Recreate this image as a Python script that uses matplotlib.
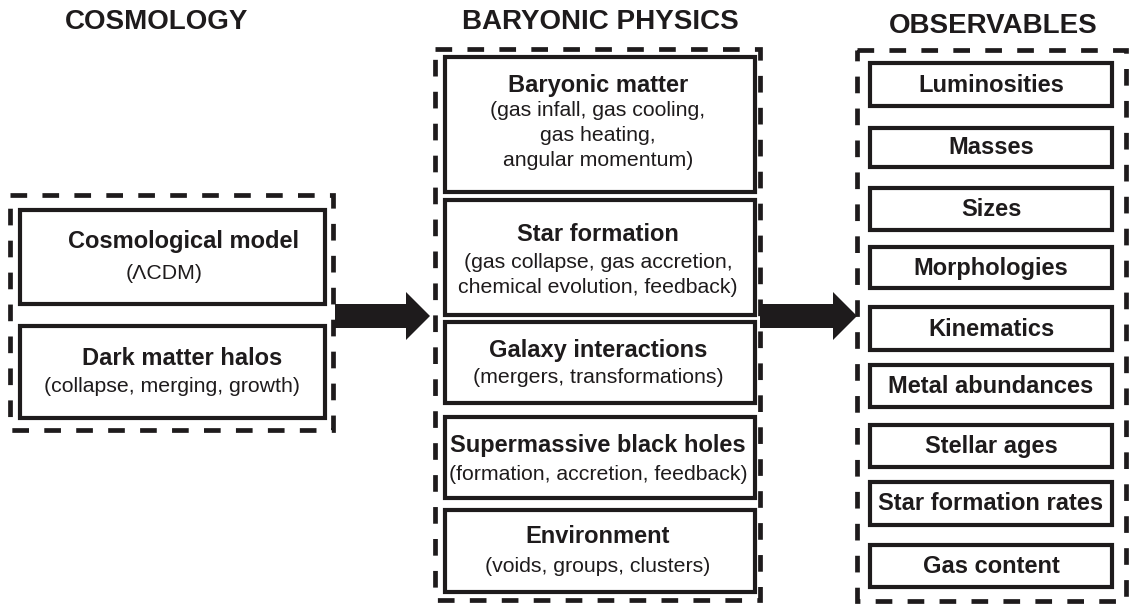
import matplotlib
matplotlib.use('Agg')
import matplotlib.pyplot as plt
from matplotlib.patches import Rectangle, FancyArrow

plt.rcParams['font.family'] = ['Liberation Sans', 'DejaVu Sans']
plt.rcParams['lines.scale_dashes'] = False

# --- content ---
column_titles = ['COSMOLOGY', 'BARYONIC PHYSICS', 'OBSERVABLES']

cosmo_titles = ['Cosmological model', 'Dark matter halos']
cosmo_notes = [['(\u039bCDM)'], ['(collapse, merging, growth)']]

baryon_titles = ['Baryonic matter', 'Star formation', 'Galaxy interactions',
                 'Supermassive black holes', 'Environment']
baryon_notes = [['(gas infall, gas cooling,', 'gas heating,', 'angular momentum)'],
                ['(gas collapse, gas accretion,', 'chemical evolution, feedback)'],
                ['(mergers, transformations)'],
                ['(formation, accretion, feedback)'],
                ['(voids, groups, clusters)']]

observables = ['Luminosities', 'Masses', 'Sizes', 'Morphologies', 'Kinematics',
               'Metal abundances', 'Stellar ages', 'Star formation rates', 'Gas content']

# --- layout (pixel coordinates, y down) ---
W, H = 1129, 604
fig = plt.figure(figsize=(W / 100, H / 100), dpi=100)
ax = fig.add_axes([0, 0, 1, 1])
ax.set_xlim(0, W)
ax.set_ylim(H, 0)
ax.axis('off')

BOX_LW = 3.0
DASH_LW = 3.4
DASH = (0, (12, 11))
TITLE_FS = 20
LABEL_FS = 17
NOTE_FS = 15.3
INK = '#1e1b1c'


def solid_box(x0, y0, x1, y1):
    ax.add_patch(Rectangle((x0, y0), x1 - x0, y1 - y0, fill=False,
                           lw=BOX_LW, ec=INK, joinstyle='miter'))


def dashed_box(x0, y0, x1, y1):
    ax.add_patch(Rectangle((x0, y0), x1 - x0, y1 - y0, fill=False,
                           lw=DASH_LW, ec=INK, ls=DASH))


def boxed_entries(titles, notes, x0, x1, tops, bottoms, title_y, note_y,
                  title_x, note_x, gap=25):
    for i, t in enumerate(titles):
        solid_box(x0, tops[i], x1, bottoms[i])
        ax.text(title_x[i], title_y[i], t, ha='center', va='baseline',
                fontsize=LABEL_FS, fontweight='bold', color=INK)
        for k, line in enumerate(notes[i]):
            ax.text(note_x[i], note_y[i] + k * gap, line, ha='center',
                    va='baseline', fontsize=NOTE_FS, color=INK)


# column headings
title_pos = [(157, 29), (600, 29), (993, 33)]
for (tx, ty), t in zip(title_pos, column_titles):
    ax.text(tx, ty, t, ha='center', va='baseline', fontsize=TITLE_FS,
            fontweight='bold', color=INK)

# cosmology column
dashed_box(10, 195, 333, 430)
boxed_entries(cosmo_titles, cosmo_notes, 20, 325, [210, 326], [304, 418],
              [248, 365], [279, 392], [184, 182], [164, 172])

# baryonic physics column
dashed_box(435, 49, 760, 600)
boxed_entries(baryon_titles, baryon_notes, 445, 755,
              [57, 200, 322, 417, 510], [192, 315, 403, 498, 592],
              [92, 241, 357, 452, 543], [116, 268, 383, 480, 572],
              [598] * 5, [598] * 5)

# observables column
dashed_box(857, 50, 1126, 601)
obs_tops = [63, 128, 188, 247, 307, 365, 425, 482, 545]
obs_bottoms = [106, 167, 230, 288, 350, 407, 467, 525, 587]
for top, bot, name in zip(obs_tops, obs_bottoms, observables):
    solid_box(870, top, 1112, bot)
    ax.text(991, (top + bot) / 2 + 7, name, ha='center', va='baseline',
            fontsize=LABEL_FS, fontweight='bold', color=INK)

# arrows between columns
for x_start, x_end in [(335, 430), (760, 857)]:
    ax.add_patch(FancyArrow(x_start, 316, x_end - x_start, 0, width=24,
                            head_width=48, head_length=24,
                            length_includes_head=True, color=INK, lw=0))

plt.savefig('out.png', dpi=100)
